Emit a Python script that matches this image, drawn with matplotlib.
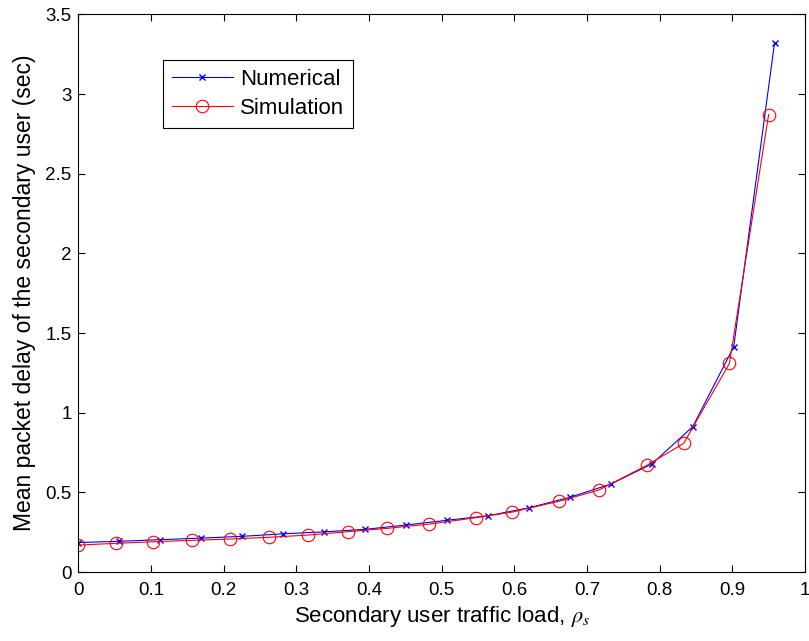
import matplotlib
matplotlib.use("Agg")
import matplotlib.pyplot as plt
import numpy as np

plt.rcParams['font.family'] = ['Liberation Sans', 'DejaVu Sans']
plt.rcParams['mathtext.fontset'] = 'stix'

# Numerical model results
num_load = [0.0, 0.0564, 0.1127, 0.1691, 0.2255, 0.2818, 0.3382, 0.3946, 0.4509,
            0.5073, 0.5637, 0.6200, 0.6764, 0.7328, 0.7891, 0.8455, 0.9019, 0.9582]
num_delay = [0.185, 0.193, 0.203, 0.213, 0.224, 0.240, 0.252, 0.268, 0.295,
             0.325, 0.353, 0.403, 0.469, 0.552, 0.678, 0.912, 1.413, 3.323]

# Simulation results
sim_load = [0.0, 0.051, 0.103, 0.156, 0.209, 0.262, 0.316, 0.371, 0.425,
            0.483, 0.547, 0.597, 0.662, 0.716, 0.783, 0.833, 0.896, 0.950]
sim_delay = [0.169, 0.180, 0.190, 0.199, 0.207, 0.218, 0.232, 0.253, 0.274,
             0.301, 0.341, 0.376, 0.445, 0.514, 0.671, 0.807, 1.309, 2.871]

x_ticks = [0, 0.1, 0.2, 0.3, 0.4, 0.5, 0.6, 0.7, 0.8, 0.9, 1]
x_tick_labels = ["0", "0.1", "0.2", "0.3", "0.4", "0.5", "0.6", "0.7", "0.8", "0.9", "1"]
y_ticks = [0, 0.5, 1, 1.5, 2, 2.5, 3, 3.5]
y_tick_labels = ["0", "0.5", "1", "1.5", "2", "2.5", "3", "3.5"]

fig = plt.figure(figsize=(8.09, 6.41), dpi=100)
ax = fig.add_axes([0.097, 0.1076, 0.898, 0.870])

ax.plot(num_load, num_delay, color='#0000ff', linewidth=0.8, marker='x',
        markersize=5, markeredgewidth=1.0, label='Numerical')
ax.plot(sim_load, sim_delay, color='#ff0000', linewidth=0.8, marker='o',
        markersize=9, markerfacecolor='none', markeredgewidth=0.8, label='Simulation')

ax.set_xlim(0, 1)
ax.set_ylim(0, 3.5)
ax.set_xticks(x_ticks)
ax.set_xticklabels(x_tick_labels)
ax.set_yticks(y_ticks)
ax.set_yticklabels(y_tick_labels)
ax.tick_params(direction='in', top=True, right=True, labelsize=13.5, length=5, width=0.8)
ax.tick_params(axis='x', pad=7.5)
ax.tick_params(axis='y', pad=5)
for s in ax.spines.values():
    s.set_linewidth(0.8)

ax.set_xlabel(r'Secondary user traffic load, $\rho_s$', fontsize=16, labelpad=3)
ax.set_ylabel('Mean packet delay of the secondary user (sec)', fontsize=16.5, labelpad=7)

leg = ax.legend(loc='upper left', bbox_to_anchor=(0.116, 0.9176), fontsize=16,
                frameon=True, fancybox=False, edgecolor='black', framealpha=1,
                borderpad=0.4, labelspacing=0.34, handlelength=2.75, handletextpad=0.33,
                borderaxespad=0)
leg.get_frame().set_linewidth(0.8)

fig.savefig('out.png', dpi=100)
